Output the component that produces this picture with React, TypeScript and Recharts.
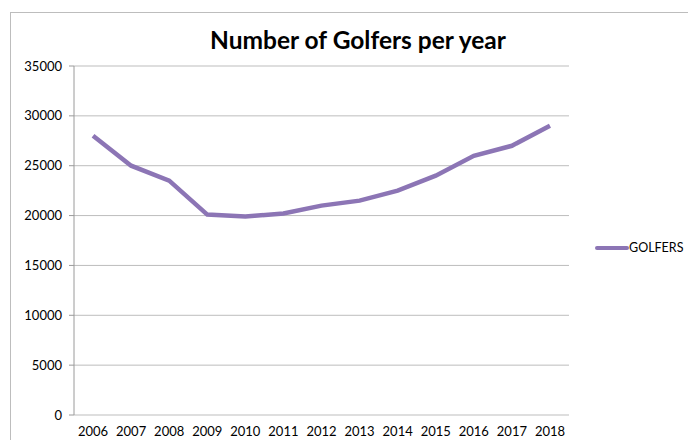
import { LineChart, Line, XAxis, YAxis, CartesianGrid } from 'recharts'

const years = ['2006', '2007', '2008', '2009', '2010', '2011', '2012', '2013', '2014', '2015', '2016', '2017', '2018']
const golfers = [28000, 25000, 23500, 20100, 19900, 20200, 21000, 21500, 22500, 24000, 26000, 27000, 29000]
const yTicks = [0, 5000, 10000, 15000, 20000, 25000, 30000, 35000]

const data = years.map((year, i) => ({ year, idx: i + 0.5, GOLFERS: golfers[i] }))
const boundaryTicks = years.map((_, i) => i).concat([years.length])

const font = 'Lato, "Open Sans", sans-serif'
const purple = '#8C75B5'

export default function App() {
  return (
    <div
      style={{
        position: 'fixed',
        left: 8,
        top: 8,
        width: 680,
        height: 432,
        overflow: 'hidden',
        fontFamily: font,
        background: '#fff',
      }}
    >
      <div
        style={{
          position: 'absolute',
          left: 2,
          top: 4,
          width: 800,
          height: 600,
          border: '1px solid #bdbdbd',
        }}
      />
      <div
        style={{
          position: 'absolute',
          left: 0,
          width: 700,
          top: 17,
          textAlign: 'center',
          fontSize: 24.5,
          fontWeight: 700,
          color: '#000',
        }}
      >
        Number of Golfers per year
      </div>
      <LineChart
        width={680}
        height={432}
        data={data}
        margin={{ top: 58, right: 119, left: 0, bottom: 0 }}
        style={{ position: 'absolute', left: 0, top: 0 }}
      >
        <CartesianGrid vertical={false} stroke="#bdbdbd" />
        <XAxis
          xAxisId="marks"
          dataKey="idx"
          type="number"
          domain={[0, years.length]}
          ticks={boundaryTicks}
          height={0}
          stroke="#9a9a9a"
          tickSize={5}
          tick={() => <g />}
        />
        <XAxis
          dataKey="year"
          scale="band"
          height={25}
          axisLine={false}
          tickLine={false}
          tickMargin={6}
          interval={0}
          tick={{ fontSize: 13, fill: '#000', fontFamily: font }}
        />
        <YAxis
          width={66}
          domain={[0, 35000]}
          ticks={yTicks}
          interval={0}
          stroke="#9a9a9a"
          tickSize={5}
          tickMargin={7}
          tick={{ fontSize: 13, fill: '#000', fontFamily: font }}
        />
        <Line
          xAxisId="marks"
          dataKey="GOLFERS"
          type="linear"
          stroke={purple}
          strokeWidth={4.5}
          dot={false}
          isAnimationActive={false}
        />
      </LineChart>
      <div
        style={{
          position: 'absolute',
          left: 587,
          top: 232,
          display: 'flex',
          alignItems: 'center',
          fontSize: 12.5,
          whiteSpace: 'nowrap',
          color: '#000',
        }}
      >
        <span style={{ display: 'inline-block', width: 34, height: 4, background: purple, borderRadius: 2 }} />
        <span>GOLFERS</span>
      </div>
    </div>
  )
}
